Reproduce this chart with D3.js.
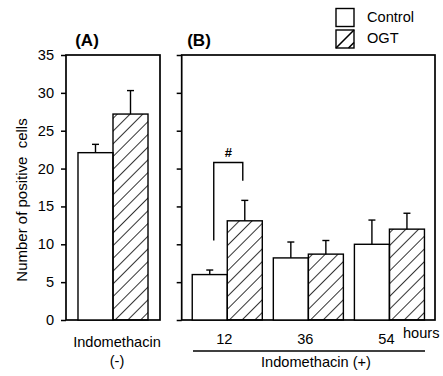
<!DOCTYPE html>
<html>
<head>
<meta charset="utf-8">
<script src="https://cdn.jsdelivr.net/npm/d3@7"></script>
<style>
  body { margin: 0; background: #fff; }
  svg { font-family: Arial, "Liberation Sans", Helvetica, sans-serif; }
</style>
</head>
<body>
<div id="chart"></div>
<script>
// Data
const series = ['Control', 'OGT'];
const groupsA = ['Indomethacin (-)'];
const groupsB = ['12', '36', '54'];
const meanA = [[22.1, 27.2]];          // [control, OGT]
const errA = [[1.1, 3.1]];
const meanB = [[6.0, 13.1], [8.2, 8.7], [10.0, 12.0]];
const errB = [[0.6, 2.7], [2.1, 1.8], [3.2, 2.1]];
const yTicks = [0, 5, 10, 15, 20, 25, 30, 35];

const width = 443, height = 376;
const plotTop = 55, plotBottom = 320;
const fs = '14.6px';

const svg = d3.select('#chart').append('svg')
  .attr('width', width)
  .attr('height', height);

// hatch pattern for OGT
const defs = svg.append('defs');
defs.append('pattern')
  .attr('id', 'hatch')
  .attr('patternUnits', 'userSpaceOnUse')
  .attr('width', 9).attr('height', 9)
  .attr('patternTransform', 'rotate(45)')
  .append('line')
  .attr('x1', 0).attr('y1', 0).attr('x2', 0).attr('y2', 9)
  .attr('stroke', '#000').attr('stroke-width', 1.6);

const y = d3.scaleLinear().domain([0, 35]).range([plotBottom, plotTop]);

function panel(left, right, groups, means, errs, po) {
  const x = d3.scaleBand().domain(groups).range([left, right])
    .paddingInner(0.136).paddingOuter(po);
  const xs = d3.scaleBand().domain(series).range([0, x.bandwidth()]);

  const g = svg.append('g');

  // frame
  g.append('rect')
    .attr('x', left).attr('y', plotTop)
    .attr('width', right - left).attr('height', plotBottom - plotTop)
    .attr('fill', 'none').attr('stroke', '#000').attr('stroke-width', 1.7);

  // y axis ticks
  const ax = g.append('g')
    .attr('transform', `translate(${left},0)`)
    .call(d3.axisLeft(y).tickValues(yTicks).tickSize(5).tickFormat(''));
  ax.select('.domain').remove();
  ax.selectAll('line').attr('stroke-width', 1.5);

  groups.forEach((grp, i) => {
    const gg = g.append('g').attr('transform', `translate(${x(grp)},0)`);
    series.forEach((s, j) => {
      const v = means[i][j], e = errs[i][j];
      const bx = xs(s), bw = xs.bandwidth();
      const cx = bx + bw / 2;
      // error bar (upper only)
      gg.append('line')
        .attr('x1', cx).attr('x2', cx)
        .attr('y1', y(v)).attr('y2', y(v + e))
        .attr('stroke', '#000').attr('stroke-width', 1.4);
      gg.append('line')
        .attr('x1', cx - 3.5).attr('x2', cx + 3.5)
        .attr('y1', y(v + e)).attr('y2', y(v + e))
        .attr('stroke', '#000').attr('stroke-width', 1.4);
      gg.append('rect')
        .attr('x', bx).attr('y', y(v))
        .attr('width', bw).attr('height', y(0) - y(v))
        .attr('fill', j === 0 ? '#fff' : 'url(#hatch)')
        .attr('stroke', '#000').attr('stroke-width', 1.4);
    });
  });
  return { x, xs };
}

const pA = panel(66, 160, groupsA, meanA, errA, 0.148);
const pB = panel(181.7, 435, groupsB, meanB, errB, 0.13);

// tick labels (left of panel A)
svg.append('g').selectAll('text')
  .data(yTicks)
  .join('text')
  .attr('x', 54)
  .attr('y', d => y(d) + 5)
  .attr('text-anchor', 'end')
  .style('font-size', fs)
  .text(d => d);

// y label
svg.append('text')
  .attr('transform', `translate(27,200) rotate(-90)`)
  .attr('text-anchor', 'middle')
  .style('font-size', '15px')
  .style('white-space', 'pre')
  .attr('xml:space', 'preserve')
  .text('Number of positive  cells');

// panel titles
svg.append('text').attr('x', 87).attr('y', 46).attr('text-anchor', 'middle')
  .style('font-size', '17px').style('font-weight', 'bold').text('(A)');
svg.append('text').attr('x', 199).attr('y', 46).attr('text-anchor', 'middle')
  .style('font-size', '17px').style('font-weight', 'bold').text('(B)');

// significance bracket between 12 h bars
const b12 = pB.x('12');
const bl = b12 + pB.xs('Control') + pB.xs.bandwidth() / 2 + 4;
const br = b12 + pB.xs('OGT') + pB.xs.bandwidth() / 2 - 2;
svg.append('path')
  .attr('d', `M${bl},${y(10.5)}V${y(20.8)}H${br}V${y(18.4)}`)
  .attr('fill', 'none').attr('stroke', '#000').attr('stroke-width', 1.4);
svg.append('text').attr('x', (bl + br) / 2).attr('y', y(21.5))
  .attr('text-anchor', 'middle').style('font-size', '13px').style('font-weight', 'bold').text('#');

// x labels
svg.append('text').attr('x', 117).attr('y', 347).attr('text-anchor', 'middle')
  .style('font-size', fs).text('Indomethacin');
svg.append('text').attr('x', 117).attr('y', 366).attr('text-anchor', 'middle')
  .style('font-size', fs).text('(-)');

svg.append('g').selectAll('text')
  .data(groupsB)
  .join('text')
  .attr('x', d => pB.x(d) + pB.x.bandwidth() / 2 - 3)
  .attr('y', 344)
  .attr('text-anchor', 'middle')
  .style('font-size', fs)
  .text(d => d);
svg.append('text').attr('x', 403).attr('y', 338)
  .style('font-size', fs).text('hours');
svg.append('line')
  .attr('x1', 193).attr('x2', 425).attr('y1', 351).attr('y2', 351)
  .attr('stroke', '#000').attr('stroke-width', 1.4);
svg.append('text').attr('x', 316).attr('y', 367).attr('text-anchor', 'middle')
  .style('font-size', fs).text('Indomethacin (+)');

// legend
const leg = svg.append('g');
series.forEach((s, i) => {
  const ly = 8.5 + i * 21.5;
  leg.append('rect')
    .attr('x', 336).attr('y', ly)
    .attr('width', 18).attr('height', 18)
    .attr('fill', '#fff')
    .attr('stroke', '#000').attr('stroke-width', 1.4);
  if (s === 'OGT') {
    leg.append('line')
      .attr('x1', 336).attr('y1', ly + 18).attr('x2', 354).attr('y2', ly)
      .attr('stroke', '#000').attr('stroke-width', 1.6);
    leg.append('line')
      .attr('x1', 348.5).attr('y1', ly + 18).attr('x2', 354).attr('y2', ly + 12.5)
      .attr('stroke', '#000').attr('stroke-width', 1.6);
  }
  leg.append('text')
    .attr('x', 367).attr('y', 21.5 + i * 21.5)
    .style('font-size', fs)
    .text(s);
});
</script>
</body>
</html>
